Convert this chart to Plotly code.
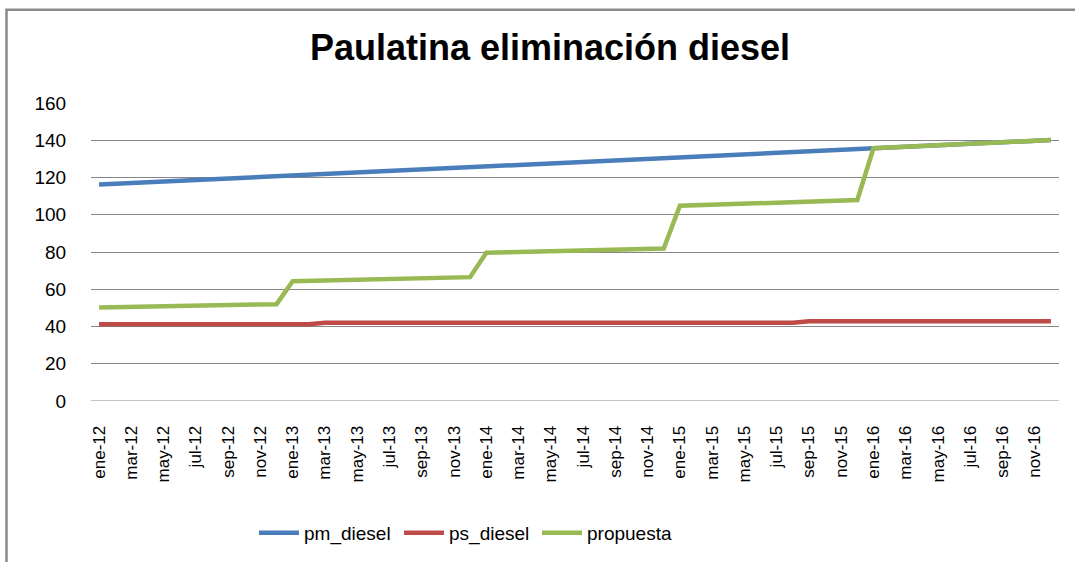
import plotly.graph_objects as go

# Monthly labels, January 2012 through December 2016
month_abbr = ["ene", "feb", "mar", "abr", "may", "jun",
              "jul", "ago", "sep", "oct", "nov", "dic"]
years = ["12", "13", "14", "15", "16"]
months = [f"{m}-{y}" for y in years for m in month_abbr]

pm_diesel = [
    116.2, 116.6, 117.0, 117.3, 117.6, 118.0, 118.4, 118.8, 119.2, 119.6, 120.0, 120.5,
    121.0, 121.3, 121.7, 122.1, 122.5, 122.9, 123.3, 123.7, 124.1, 124.5, 124.9, 125.3,
    125.8, 126.2, 126.6, 127.0, 127.4, 127.8, 128.2, 128.6, 129.0, 129.4, 129.8, 130.2,
    130.7, 131.1, 131.5, 131.9, 132.3, 132.7, 133.1, 133.5, 133.9, 134.3, 134.7, 135.1,
    135.7, 136.1, 136.5, 136.9, 137.3, 137.7, 138.1, 138.5, 138.9, 139.3, 139.7, 140.1,
]

ps_diesel = [
    41.2, 41.2, 41.2, 41.2, 41.2, 41.2, 41.2, 41.2, 41.2, 41.2, 41.2, 41.2,
    41.2, 41.2, 42.0, 42.0, 42.0, 42.0, 42.0, 42.0, 42.0, 42.0, 42.0, 42.0,
    42.0, 42.0, 42.0, 42.0, 42.0, 42.0, 42.0, 42.0, 42.0, 42.0, 42.0, 42.0,
    42.0, 42.0, 42.0, 42.0, 42.0, 42.0, 42.0, 42.0, 42.8, 42.8, 42.8, 42.8,
    42.8, 42.8, 42.8, 42.8, 42.8, 42.8, 42.8, 42.8, 42.8, 42.8, 42.8, 42.8,
]

propuesta = [
    50.2, 50.4, 50.5, 50.7, 50.9, 51.0, 51.2, 51.4, 51.5, 51.7, 51.9, 52.0,
    64.3, 64.5, 64.7, 64.9, 65.1, 65.3, 65.5, 65.7, 65.9, 66.1, 66.3, 66.5,
    79.6, 79.8, 80.0, 80.2, 80.4, 80.6, 80.8, 81.0, 81.2, 81.4, 81.6, 81.9,
    104.8, 105.1, 105.4, 105.6, 105.9, 106.2, 106.5, 106.8, 107.1, 107.3, 107.6, 107.9,
    135.7, 136.1, 136.5, 136.9, 137.3, 137.7, 138.1, 138.5, 138.9, 139.3, 139.7, 140.1,
]

series = [
    ("pm_diesel", pm_diesel, "#4a7ebb"),
    ("ps_diesel", ps_diesel, "#be4b48"),
    ("propuesta", propuesta, "#98b954"),
]

FONT = "Liberation Sans, Arial, sans-serif"

W, H = 1075, 562
ML, MR, MT, MB = 91, 16, 103, 160
pw, ph = W - ML - MR, H - MT - MB

def px_x(p):
    return (p - ML) / pw

def px_y(p):
    return (H - MB - p) / ph

# one legend box per series so each entry sits at its own spot
legend_ids = ["legend", "legend2", "legend3"]
legend_left = [254, 399, 537]

fig = go.Figure()
for (name, vals, color), lg in zip(series, legend_ids):
    fig.add_trace(go.Scatter(
        x=months, y=vals, name=name, mode="lines",
        line=dict(color=color, width=4.5), legend=lg,
    ))

legend_style = dict(
    orientation="h", xanchor="left", y=px_y(533), yanchor="middle",
    font=dict(size=19, family=FONT), itemwidth=40,
    bgcolor="rgba(0,0,0,0)",
)

fig.update_layout(
    width=W, height=H,
    margin=dict(l=ML, r=MR, t=MT, b=MB),
    paper_bgcolor="white", plot_bgcolor="white",
    font=dict(family=FONT, color="black"),
    title=dict(
        text="<b>Paulatina eliminación diesel</b>",
        font=dict(size=36, family=FONT, color="black"),
        x=550 / W, xanchor="center", y=1 - 47 / H, yanchor="middle",
    ),
    showlegend=True,
    legend=dict(x=px_x(legend_left[0]), **legend_style),
    legend2=dict(x=px_x(legend_left[1]), **legend_style),
    legend3=dict(x=px_x(legend_left[2]), **legend_style),
    xaxis=dict(
        type="category",
        tickmode="array", tickvals=months[::2], ticktext=months[::2],
        tickangle=-90, tickfont=dict(size=17, family=FONT),
        ticks="outside", ticklen=17, tickcolor="rgba(0,0,0,0)",
        showgrid=False, showline=False, zeroline=False,
        range=[-0.5, len(months) - 0.5],
    ),
    yaxis=dict(
        range=[0, 160], tickvals=list(range(0, 161, 20)),
        tickfont=dict(size=19, family=FONT),
        showgrid=True, gridcolor="#868686", gridwidth=1,
        zeroline=False, showline=False,
        ticks="outside", ticklen=20, tickcolor="rgba(0,0,0,0)",
    ),
    shapes=[
        # chart frame
        dict(type="rect", xref="paper", yref="paper",
             x0=px_x(6.5), x1=px_x(W + 20), y0=px_y(H + 20), y1=px_y(9.5),
             line=dict(color="#8a8a8a", width=2.5), layer="below"),
        # baseline at zero
        dict(type="line", xref="paper", yref="y", x0=0, x1=1, y0=0, y1=0,
             line=dict(color="#868686", width=1), layer="below"),
    ],
)

fig.write_html("out.html")
